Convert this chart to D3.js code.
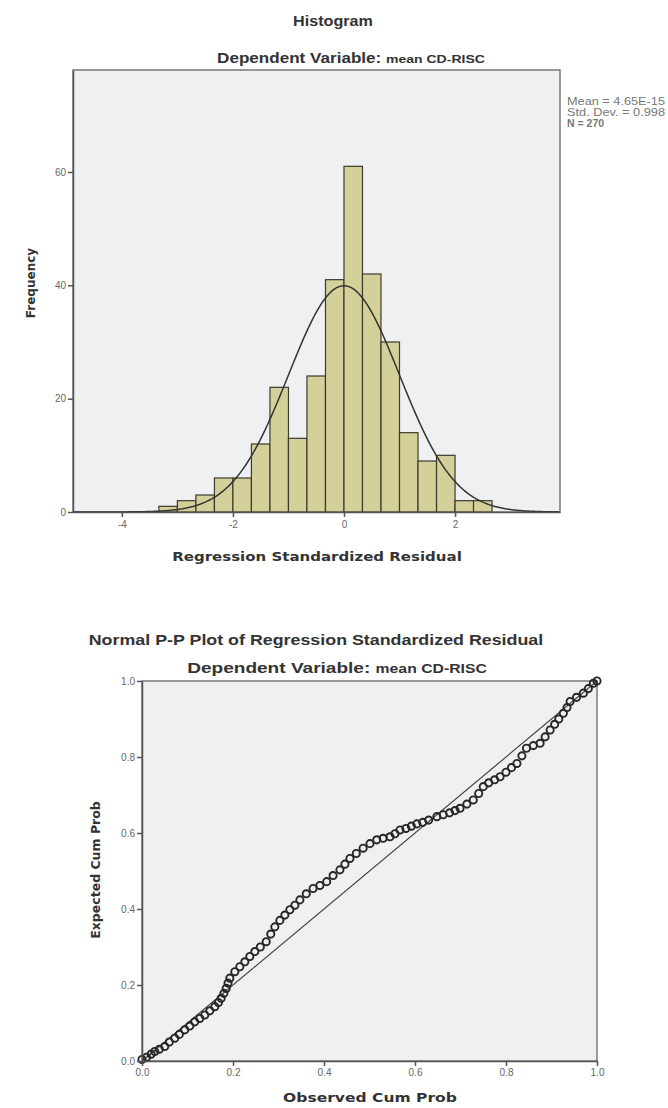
<!DOCTYPE html>
<html>
<head>
<meta charset="utf-8">
<script src="https://cdn.jsdelivr.net/npm/d3@7"></script>
<style>
	body { margin: 0; background: #fff; }
	svg text { font-family: "Liberation Sans", Arial, sans-serif; }
	.ttl { font-weight: bold; fill: #333; }
	.axt { font-family: "DejaVu Sans", sans-serif !important; font-weight: bold; fill: #333; }
	.tick text { fill: #666; font-size: 10px; }
</style>
</head>
<body>
<svg id="chart" width="668" height="1108"></svg>
<script>
"use strict";

// histogram bins (lower edge) and counts
var binLows = [-3.333, -3.0, -2.667, -2.333, -2.0, -1.667, -1.333, -1.0, -0.667, -0.333,
	0.0, 0.333, 0.667, 1.0, 1.333, 1.667, 2.0, 2.333];
var binCounts = [1, 2, 3, 6, 6, 12, 22, 13, 24, 41, 61, 42, 30, 14, 9, 10, 2, 2];
var binWidth = 0.333;
var histXTicks = [-4, -2, 0, 2];
var histYTicks = [0, 20, 40, 60];
var fitMean = 0, fitSd = 0.998;
var statLines = ["Mean = 4.65E-15", "Std. Dev. = 0.998", "N = 270"];

// P-P plot points: observed cum prob, expected cum prob
var ppObserved = [0.000, 0.010, 0.020, 0.028, 0.038, 0.050, 0.060, 0.072, 0.082, 0.094,
	0.105, 0.116, 0.127, 0.138, 0.149, 0.160, 0.168, 0.174, 0.180, 0.185,
	0.189, 0.193, 0.204, 0.215, 0.226, 0.237, 0.248, 0.260, 0.273, 0.283,
	0.292, 0.303, 0.314, 0.325, 0.336, 0.347, 0.361, 0.376, 0.391, 0.406,
	0.420, 0.435, 0.446, 0.457, 0.471, 0.486, 0.501, 0.516, 0.530, 0.545,
	0.556, 0.567, 0.580, 0.592, 0.604, 0.617, 0.630, 0.648, 0.662, 0.676,
	0.688, 0.699, 0.714, 0.728, 0.740, 0.750, 0.762, 0.775, 0.787, 0.800,
	0.812, 0.824, 0.835, 0.845, 0.860, 0.875, 0.886, 0.897, 0.907, 0.916,
	0.926, 0.934, 0.941, 0.955, 0.970, 0.981, 0.992, 1.000];
var ppExpected = [0.004, 0.010, 0.018, 0.025, 0.031, 0.038, 0.050, 0.060, 0.070, 0.082,
	0.092, 0.103, 0.112, 0.121, 0.132, 0.143, 0.154, 0.165, 0.178, 0.191,
	0.205, 0.218, 0.235, 0.248, 0.261, 0.275, 0.288, 0.300, 0.314, 0.334,
	0.353, 0.370, 0.384, 0.398, 0.410, 0.424, 0.440, 0.454, 0.462, 0.472,
	0.488, 0.503, 0.518, 0.533, 0.546, 0.560, 0.572, 0.582, 0.586, 0.590,
	0.598, 0.608, 0.612, 0.618, 0.624, 0.628, 0.634, 0.643, 0.648, 0.653,
	0.659, 0.665, 0.676, 0.687, 0.704, 0.722, 0.732, 0.740, 0.748, 0.760,
	0.772, 0.783, 0.803, 0.823, 0.830, 0.836, 0.853, 0.871, 0.886, 0.900,
	0.915, 0.930, 0.946, 0.957, 0.968, 0.980, 0.994, 1.000];
var ppTicks = [0, 0.2, 0.4, 0.6, 0.8, 1.0];

var svg = d3.select("#chart");

/**
 * Darken the axis line and tick marks the SPSS way
 */
var styleAxis = function (g) {
	g.select(".domain").attr("stroke", "#555").attr("stroke-width", 1.5);
	g.selectAll(".tick line").attr("stroke", "#555").attr("stroke-width", 1.5);
};

/**
 * The source picture is a bit wider than tall, so titles get squeezed
 * out horizontally to the width they have there (centred on cx)
 * @param  {Object} t     d3 selection of one text element
 * @param  {Number} cx    centre x
 * @param  {Number} width wanted width in px
 */
var stretch = function (t, cx, width) {
	var k = width / t.node().getComputedTextLength();
	t.attr("transform", "translate(" + cx + ",0) scale(" + k + ",1) translate(" + (-cx) + ",0)");
};

/**
 * Two-part SPSS style subtitle
 */
var subtitle = function (cx, y, size, width) {
	var t = svg.append("text").attr("class", "ttl")
		.attr("x", cx).attr("y", y).attr("text-anchor", "middle");
	t.append("tspan").attr("font-size", size).text("Dependent Variable: ");
	t.append("tspan").attr("font-size", size - 2.5).text("mean CD-RISC");
	stretch(t, cx, width);
};

/**
 * Histogram with fitted normal curve
 */
var drawHistogram = function () {
	var x = d3.scaleLinear().domain([-4.88, 3.89]).range([73, 560]),
		y = d3.scaleLinear().domain([0, 78]).range([512, 70]);

	svg.append("rect")
		.attr("x", 73).attr("y", 70).attr("width", 487).attr("height", 442)
		.attr("fill", "#eef0f2").attr("stroke", "#7a7a7a").attr("stroke-width", 1.5);

	svg.append("g").selectAll("rect")
		.data(binCounts)
		.join("rect")
		.attr("x", function (d, i) { return x(binLows[i]); })
		.attr("y", function (d) { return y(d); })
		.attr("width", function (d, i) { return x(binLows[i] + binWidth) - x(binLows[i]); })
		.attr("height", function (d) { return y(0) - y(d); })
		.attr("fill", "#d4d09a")
		.attr("stroke", "#3d3b2c")
		.attr("stroke-width", 1.2);

	var scale = d3.sum(binCounts) * binWidth,
		pdf = function (v) {
			var z = (v - fitMean) / fitSd;
			return scale * Math.exp(-0.5 * z * z) / (fitSd * Math.sqrt(2 * Math.PI));
		};

	svg.append("path")
		.datum(d3.range(-4.88, 3.89, 0.02))
		.attr("fill", "none")
		.attr("stroke", "#333")
		.attr("stroke-width", 1.5)
		.attr("d", d3.line().x(function (v) { return x(v); }).y(function (v) { return y(pdf(v)); }));

	svg.append("g").attr("transform", "translate(0,512)")
		.call(d3.axisBottom(x).tickValues(histXTicks).tickFormat(String)
			.tickSize(5).tickSizeOuter(0).tickPadding(4))
		.call(styleAxis);

	svg.append("g").attr("transform", "translate(73,0)")
		.call(d3.axisLeft(y).tickValues(histYTicks).tickFormat(String)
			.tickSize(5).tickSizeOuter(0).tickPadding(2))
		.call(styleAxis);

	var t = svg.append("text").attr("class", "ttl").attr("font-size", 14)
		.attr("x", 333).attr("y", 26).attr("text-anchor", "middle").text("Histogram");
	stretch(t, 333, 80);
	subtitle(351, 63, 14, 268);

	t = svg.append("text").attr("class", "axt").attr("font-size", 13)
		.attr("x", 317).attr("y", 561).attr("text-anchor", "middle")
		.text("Regression Standardized Residual");
	stretch(t, 317, 290);
	svg.append("text").attr("class", "axt").attr("font-size", 12)
		.attr("transform", "translate(35,283) rotate(-90)").attr("text-anchor", "middle")
		.text("Frequency");

	svg.append("g").selectAll("text")
		.data(statLines)
		.join("text")
		.attr("x", 567)
		.attr("y", function (d, i) { return 105 + i * 11; })
		.attr("font-size", 10.5)
		.attr("font-weight", function (d, i) { return i === 2 ? "bold" : null; })
		.attr("fill", "#777")
		.text(function (d) { return d; })
		.each(function (d, i) {
			if (i < 2) {
				d3.select(this).attr("textLength", 98).attr("lengthAdjust", "spacingAndGlyphs");
			}
		});
};

/**
 * Normal P-P plot
 */
var drawPP = function () {
	var x = d3.scaleLinear().domain([0, 1]).range([142, 597]),
		y = d3.scaleLinear().domain([0, 1]).range([1061, 681]);

	svg.append("rect")
		.attr("x", 142).attr("y", 681).attr("width", 455).attr("height", 380)
		.attr("fill", "#eef0f2").attr("stroke", "#7a7a7a").attr("stroke-width", 1.5);

	svg.append("line")
		.attr("x1", x(0)).attr("y1", y(0)).attr("x2", x(1)).attr("y2", y(1))
		.attr("stroke", "#444").attr("stroke-width", 1.2);

	svg.append("g").selectAll("circle")
		.data(ppObserved)
		.join("circle")
		.attr("cx", function (d) { return x(d); })
		.attr("cy", function (d, i) { return y(ppExpected[i]); })
		.attr("r", 3.6)
		.attr("fill", "none")
		.attr("stroke", "#262626")
		.attr("stroke-width", 1.9);

	var fmt = d3.format(".1f");
	svg.append("g").attr("transform", "translate(0,1061)")
		.call(d3.axisBottom(x).tickValues(ppTicks).tickFormat(fmt)
			.tickSize(5).tickSizeOuter(0).tickPadding(3))
		.call(styleAxis);

	svg.append("g").attr("transform", "translate(142,0)")
		.call(d3.axisLeft(y).tickValues(ppTicks).tickFormat(fmt)
			.tickSize(5).tickSizeOuter(0).tickPadding(2))
		.call(styleAxis);

	var t = svg.append("text").attr("class", "ttl").attr("font-size", 15)
		.attr("x", 316).attr("y", 645).attr("text-anchor", "middle")
		.text("Normal P-P Plot of Regression Standardized Residual");
	stretch(t, 316, 455);
	subtitle(337, 673, 14.5, 300);

	t = svg.append("text").attr("class", "axt").attr("font-size", 13)
		.attr("x", 370).attr("y", 1102).attr("text-anchor", "middle")
		.text("Observed Cum Prob");
	stretch(t, 370, 174);
	svg.append("text").attr("class", "axt").attr("font-size", 12.5)
		.attr("transform", "translate(100,870) rotate(-90)").attr("text-anchor", "middle")
		.text("Expected Cum Prob");
};

drawHistogram();
drawPP();
</script>
</body>
</html>
